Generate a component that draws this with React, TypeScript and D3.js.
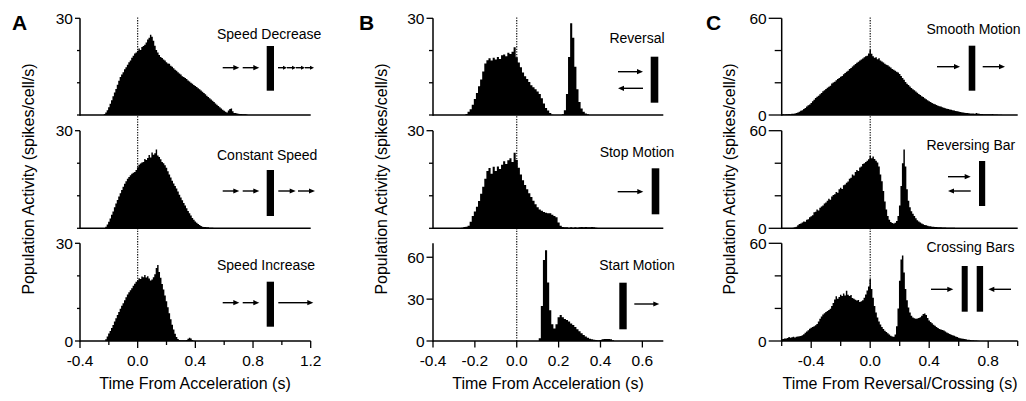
import { useEffect, useRef } from "react";
import * as d3 from "d3";

const BIN = 0.01; // histogram bin width (s)

// ---- Panel A: speed changes (spikes/cell/s, one value per 10 ms bin)
const speedDecreaseStart = -0.23;
const speedDecrease = [
  0.3, 0.8, 1.5, 2.4, 3.5, 4.6, 5.8, 7.0, 8.1, 9.4,
  10.6, 11.8, 12.6, 13.3, 14.2, 14.8, 15.6, 16.4, 16.9, 17.8,
  18.4, 19.1, 19.4, 19.9, 20.6, 20.2, 21.1, 21.4, 21.8, 22.5,
  23.4, 24.0, 24.9, 24.3, 23.0, 21.5, 20.2, 19.4, 18.6, 18.0,
  17.7, 17.2, 16.9, 16.4, 16.0, 15.9, 15.3, 15.0, 14.5, 14.0,
  13.7, 13.3, 12.9, 12.6, 12.0, 11.8, 11.5, 11.2, 10.7, 10.4,
  10.0, 9.7, 9.3, 9.0, 8.7, 8.3, 8.0, 7.6, 7.2, 6.8,
  6.4, 6.0, 5.6, 5.2, 4.8, 4.4, 4.0, 3.6, 3.2, 2.8,
  2.4, 2.0, 1.6, 1.3, 1.0, 0.8, 1.4, 1.9, 2.0, 1.2,
  0.6, 0.6, 0.5, 0.4, 0.3, 0.3, 0.2, 0.2, 0.2, 0.1,
];
const constantSpeedStart = -0.22;
const constantSpeed = [
  0.5, 1.2, 2.0, 3.0, 4.2, 5.2, 6.5, 7.6, 8.7, 9.8,
  10.8, 11.8, 12.8, 13.7, 14.5, 15.2, 15.8, 16.3, 16.8, 17.1,
  17.3, 17.9, 18.8, 19.5, 19.9, 20.2, 20.4, 21.3, 21.0, 21.6,
  22.5, 21.8, 23.3, 22.6, 23.1, 24.2, 22.4, 21.9, 21.2, 20.4,
  20.0, 19.4, 18.6, 17.5, 16.5, 15.6, 14.6, 13.8, 13.0, 12.2,
  11.3, 10.3, 9.5, 8.6, 7.8, 7.0, 6.2, 5.3, 4.6, 3.9,
  3.2, 2.6, 2.1, 1.7, 1.3, 1.0, 0.7, 0.5, 0.4, 0.4,
  0.3, 0.3, 0.2, 0.2, 0.2,
];
const speedIncreaseStart = -0.22;
const speedIncrease = [
  0.5, 1.4, 2.3, 3.1, 4.0, 4.9, 6.0, 7.0, 8.0, 8.9,
  9.9, 10.8, 11.6, 12.5, 13.4, 14.3, 15.0, 15.6, 16.2, 17.0,
  17.6, 18.2, 18.6, 19.3, 19.0, 19.8, 19.6, 20.3, 19.5, 19.9,
  19.2, 18.6, 18.9, 19.6, 20.5, 22.4, 23.3, 21.2, 19.4, 17.5,
  15.8, 14.0, 12.2, 10.4, 8.5, 6.7, 5.0, 3.5, 2.2, 1.2,
  0.6, 0.3, 0.2, 0.2, 0.2, 0.2, 0.3, 0.7, 1.0, 0.8,
  0.3, 0.1,
];

// ---- Panel B: reversal / stop / start
const reversalStart = -0.24;
const reversal = [
  0.3, 1.0, 1.8, 3.2, 5.0, 6.8, 8.9, 11.0, 13.5, 16.0,
  17.0, 17.6, 16.9, 17.8, 17.2, 18.0, 17.4, 18.5, 18.8, 18.2,
  19.3, 18.9, 19.6, 21.0, 17.9, 16.3, 14.8, 13.2, 12.0, 11.2,
  10.2, 9.2, 8.6, 8.0, 7.3, 6.5, 5.2, 3.6, 2.2, 1.4,
  0.6, 0.1, 0, 0, 0, 0, 0.2, 1.5, 6.5, 18.0,
  28.5, 24.0, 15.0, 8.0, 4.0, 2.0, 1.0, 0.5, 0.2,
];
const stopMotionStart = -0.26;
const stopMotion = [
  0.2, 0.4, 0.5, 0.8, 2.0, 3.8, 5.2, 6.6, 8.4, 10.6,
  12.8, 15.2, 17.6, 18.5, 16.8, 18.9, 17.6, 19.0, 18.2, 19.5,
  20.6, 19.8, 20.9, 21.5, 20.4, 23.2, 21.0, 18.6, 16.5, 14.8,
  13.3, 12.0, 10.8, 9.6, 8.5, 7.4, 6.5, 5.8, 5.4, 5.0,
  4.8, 4.6, 4.6, 4.2, 3.8, 3.4, 1.8, 0.8, 0.4, 0.3,
  0.3, 0.2, 0.3, 0.2, 0.3, 0.2, 0.3, 0.4, 0.3, 0.4,
  0.3, 0.3, 0.4, 0.3, 0.2,
];
const startMotionStart = 0.11;
const startMotion = [
  2.0, 25.0, 58.0, 65.0, 42.0, 22.0, 12.0, 9.0, 12.0, 17.0,
  18.6, 17.0, 15.8, 15.0, 14.0, 12.5, 11.5, 10.0, 8.5, 7.0,
  5.5, 4.3, 3.2, 2.4, 1.7, 1.2, 0.9, 0.7, 0.6, 0.8,
  1.2, 1.4, 1.5, 1.4, 1.2, 0.6,
];

// ---- Panel C: smooth / reversing / crossing
const smoothMotionStart = -0.6;
const smoothMotion = [
  0.3, 0.4, 0.3, 0.5, 0.4, 0.6, 0.5, 0.8, 0.7, 1.0,
  1.2, 1.6, 2.0, 2.6, 3.0, 3.8, 4.3, 5.2, 6.0, 6.5,
  7.4, 8.6, 9.5, 10.6, 11.4, 12.0, 12.8, 13.6, 14.8, 15.4,
  16.2, 16.9, 17.6, 18.2, 19.6, 20.1, 20.6, 21.5, 22.4, 22.9,
  23.8, 24.2, 25.3, 26.0, 26.8, 27.4, 28.6, 29.2, 30.1, 30.8,
  31.6, 32.4, 33.0, 33.8, 34.5, 35.0, 35.8, 36.4, 36.8, 38.2,
  40.5, 38.0, 36.4, 35.6, 35.9, 34.6, 35.2, 33.8, 33.2, 32.6,
  31.8, 31.2, 30.8, 30.1, 29.5, 28.6, 28.0, 27.4, 26.8, 26.3,
  25.4, 24.2, 23.0, 21.8, 20.5, 19.4, 18.6, 17.7, 16.8, 16.0,
  15.3, 14.6, 13.8, 13.0, 12.4, 11.7, 11.1, 10.4, 9.8, 9.1,
  8.5, 8.0, 7.5, 7.0, 6.6, 6.2, 5.8, 5.5, 5.2, 4.8,
  4.5, 4.2, 3.9, 3.7, 3.4, 3.2, 3.0, 2.8, 2.5, 2.3,
  2.1, 1.9, 1.7, 1.5, 1.4, 1.3, 1.2, 1.1, 1.0, 0.9,
  0.9, 0.8, 1.2, 1.0, 0.7, 0.6, 0.6, 0.5, 0.5, 0.4,
  0.5, 0.4, 0.4, 0.6, 0.3, 0.3, 0.3, 0.2, 0.2, 0.2,
];
const reversingBarStart = -0.52;
const reversingBar = [
  0.3, 0.6, 1.0, 1.8, 2.6, 3.0, 3.6, 4.2, 4.0, 5.2,
  5.6, 6.8, 7.4, 8.0, 9.8, 10.2, 11.5, 11.0, 12.6, 13.4,
  14.0, 15.3, 15.8, 17.0, 18.2, 17.6, 19.6, 20.4, 21.0, 22.3,
  21.8, 24.0, 25.0, 24.2, 26.4, 27.0, 28.0, 28.8, 30.5, 31.0,
  33.0, 32.4, 34.6, 35.8, 35.2, 37.4, 38.0, 39.5, 40.0, 40.8,
  41.6, 42.5, 44.5, 43.0, 44.2, 42.6, 41.5, 40.5, 38.0, 33.0,
  29.0, 23.0, 16.5, 11.5, 7.5, 5.2, 3.8, 3.2, 3.0, 3.4,
  4.5, 7.5, 14.0, 26.0, 40.0, 48.5, 38.0, 24.0, 17.0, 13.0,
  10.5, 9.0, 7.5, 6.2, 5.0, 4.2, 3.6, 3.0, 2.5, 2.1,
  1.8, 1.5, 1.3, 1.2, 1.0, 0.9, 0.8, 0.8, 0.7, 0.6,
  0.6, 0.5, 0.5, 0.5, 0.4, 0.4, 0.4, 0.3, 0.3, 0.3,
];
const crossingBarsStart = -0.6;
const crossingBars = [
  1.0, 1.3, 1.6, 1.5, 1.9, 2.4, 2.0, 2.3, 2.6, 2.2,
  2.6, 2.8, 2.9, 3.1, 3.5, 4.2, 5.0, 5.8, 6.6, 7.6,
  8.2, 8.6, 9.0, 9.6, 10.5, 12.0, 13.6, 15.0, 16.2, 17.0,
  17.8, 18.4, 19.0, 19.8, 21.5, 23.4, 25.5, 27.5, 26.0, 27.0,
  28.4, 27.6, 29.2, 28.0, 30.8, 28.4, 27.6, 28.2, 26.4, 26.0,
  25.4, 24.8, 25.2, 24.0, 24.4, 25.0, 26.6, 28.5, 31.0, 33.5,
  38.0, 32.0, 26.5, 21.5, 17.5, 14.5, 12.0, 10.2, 8.6, 7.4,
  6.3, 5.5, 4.8, 4.0, 3.3, 2.8, 2.6, 4.0, 9.0, 20.0,
  37.0, 50.0, 52.5, 42.0, 32.0, 25.0, 20.5, 17.5, 15.5, 14.5,
  14.0, 13.6, 13.8, 14.2, 14.6, 15.5, 16.6, 16.9, 16.0, 14.2,
  12.6, 11.6, 10.9, 10.0, 9.3, 8.6, 8.0, 7.4, 7.0, 6.8,
  6.4, 5.8, 5.2, 4.7, 4.3, 3.9, 3.6, 3.2, 2.8, 2.4,
  2.0, 1.7, 1.5, 1.4, 1.2, 1.0, 0.8, 0.7, 0.6, 0.5,
  0.4, 0.3, 0.3, 0.2,
];

// ---- axis ticks
const xTicksA = [-0.4, -0.2, 0, 0.2, 0.4, 0.6, 0.8, 1.0, 1.2];
const xLabelsA = [-0.4, 0, 0.4, 0.8, 1.2];
const xTicksB = [-0.4, -0.2, 0, 0.2, 0.4, 0.6];
const xLabelsB = [-0.4, -0.2, 0, 0.2, 0.4, 0.6];
const xTicksC = [-0.6, -0.4, -0.2, 0, 0.2, 0.4, 0.6, 0.8, 1.0];
const xLabelsC = [-0.4, 0, 0.4, 0.8];

const FONT = "'Liberation Sans', Arial, Helvetica, sans-serif";
const rows = [
  { top: 18.3, base: 115 },
  { top: 130.7, base: 228.3 },
  { top: 243.3, base: 341 },
];

type Icon =
  | { kind: "bar"; x: number; y: number; w: number; h: number }
  | { kind: "arrow"; x1: number; x2: number; y: number; head?: number };

const arrowPair = (xs: number[][], y: number, head?: number): Icon[] =>
  xs.map(([x1, x2]) => ({ kind: "arrow", x1, x2, y, head }));

const panels = [
  {
    letter: "A", letterX: 12, xDomain: [-0.4, 1.2], xRange: [80, 310.7],
    xTicks: xTicksA, xLabels: xLabelsA, xTitle: "Time From Acceleration (s)", xTitleX: 195,
    yTitleX: 34, yTick: [5, 3], xTick: [7, 4], textX: 217, textAnchor: "start",
    subs: [
      { name: "Speed Decrease", ty: 38.5, start: speedDecreaseStart, values: speedDecrease, yMax: 30, yTicks: [0, 10, 20, 30], yLabels: [30],
        icons: [{ kind: "bar", x: 266.7, y: 46, w: 7.3, h: 44.7 } as Icon,
          ...arrowPair([[222.7, 239.3], [242.7, 259.3]], 67.7),
          ...arrowPair([[278, 287], [287, 296], [296, 305], [305, 314]], 67.7, 4)] },
      { name: "Constant Speed", ty: 159.5, start: constantSpeedStart, values: constantSpeed, yMax: 30, yTicks: [0, 10, 20, 30], yLabels: [30],
        icons: [{ kind: "bar", x: 266.7, y: 170, w: 7.3, h: 46 } as Icon,
          ...arrowPair([[222.7, 239.3], [242.7, 259.3], [278.3, 295.7], [298, 315]], 191)] },
      { name: "Speed Increase", ty: 269.5, start: speedIncreaseStart, values: speedIncrease, yMax: 30, yTicks: [0, 10, 20, 30], yLabels: [0, 30],
        icons: [{ kind: "bar", x: 266.7, y: 281.7, w: 7.3, h: 45 } as Icon,
          ...arrowPair([[222.7, 239.3], [242.7, 259.3], [278.3, 313.3]], 302.7)] },
    ],
  },
  {
    letter: "B", letterX: 359, xDomain: [-0.4, 0.7], xRange: [433, 663.3],
    xTicks: xTicksB, xLabels: xLabelsB, xTitle: "Time From Acceleration (s)", xTitleX: 548,
    yTitleX: 387, yTick: [6.5, 4], xTick: [6.5, 6.5], textX: 637, textAnchor: "middle",
    subs: [
      { name: "Reversal", ty: 43, start: reversalStart, values: reversal, yMax: 30, yTicks: [0, 10, 20, 30], yLabels: [30],
        icons: [{ kind: "bar", x: 650.7, y: 56.7, w: 7.6, h: 46 } as Icon,
          ...arrowPair([[618, 643]], 71.7), ...arrowPair([[643, 618]], 88.3)] },
      { name: "Stop Motion", ty: 157, start: stopMotionStart, values: stopMotion, yMax: 30, yTicks: [0, 10, 20, 30], yLabels: [30],
        icons: [{ kind: "bar", x: 651.7, y: 168.3, w: 7.6, h: 46 } as Icon, ...arrowPair([[617.7, 643.3]], 191.7)] },
      { name: "Start Motion", ty: 270, start: startMotionStart, values: startMotion, yMax: 70, yTicks: [0, 30, 60], yLabels: [0, 30, 60],
        icons: [{ kind: "bar", x: 619.3, y: 282.7, w: 7.4, h: 46.6 } as Icon, ...arrowPair([[634.3, 659.3]], 304)] },
    ],
  },
  {
    letter: "C", letterX: 706, xDomain: [-0.6, 1.0], xRange: [781.7, 1017.7],
    xTicks: xTicksC, xLabels: xLabelsC, xTitle: "Time From Reversal/Crossing (s)", xTitleX: 900,
    yTitleX: 735, yTick: [13, 7], xTick: [7, 5], textX: 926.5, textAnchor: "start",
    subs: [
      { name: "Smooth Motion", ty: 34, start: smoothMotionStart, values: smoothMotion, yMax: 60, yTicks: [0, 20, 40, 60], yLabels: [0, 60],
        icons: [{ kind: "bar", x: 968.7, y: 45.7, w: 6.6, h: 45 } as Icon, ...arrowPair([[937, 960], [982.7, 1005]], 66.7)] },
      { name: "Reversing Bar", ty: 149.5, start: reversingBarStart, values: reversingBar, yMax: 60, yTicks: [0, 20, 40, 60], yLabels: [0, 60],
        icons: [{ kind: "bar", x: 979, y: 161, w: 6.2, h: 45 } as Icon,
          ...arrowPair([[948, 970.7]], 176.7), ...arrowPair([[970.7, 948]], 191)] },
      { name: "Crossing Bars", ty: 252, start: crossingBarsStart, values: crossingBars, yMax: 60, yTicks: [0, 20, 40, 60], yLabels: [0, 60],
        icons: [{ kind: "bar", x: 961.7, y: 266, w: 6, h: 45.7 } as Icon, { kind: "bar", x: 976.7, y: 266, w: 6.4, h: 45.7 } as Icon,
          ...arrowPair([[931, 953.3]], 289.3), ...arrowPair([[1011, 988.3]], 289.3)] },
    ],
  },
];

const fmtX = (v: number) => (Math.abs(v) < 1e-9 ? "0.0" : v.toFixed(1));

export default function App() {
  const ref = useRef<SVGSVGElement>(null);
  useEffect(() => {
    if (!ref.current) return;
    const svg = d3.select(ref.current);
    svg.selectAll("*").remove();
    svg.attr("viewBox", "0 0 1026 401");
    svg.append("rect").attr("width", 1026).attr("height", 401).attr("fill", "#fff");

    panels.forEach((p) => {
      const x = d3.scaleLinear(p.xDomain, p.xRange);
      const g = svg.append("g");
      g.append("text").attr("x", p.letterX).attr("y", 30).attr("font-family", FONT)
        .attr("font-weight", "bold").attr("font-size", 21).text(p.letter);

      p.subs.forEach((s, ri) => {
        const r = rows[ri];
        const y = d3.scaleLinear([0, s.yMax], [r.base, r.top]);
        // histogram
        const pts: [number, number][] = s.values.map((v, i) => [s.start - BIN / 2 + i * BIN, v]);
        pts.push([s.start - BIN / 2 + s.values.length * BIN, s.values[s.values.length - 1]]);
        const area = d3.area<[number, number]>()
          .x((d) => x(d[0])).y0(y(0)).y1((d) => y(d[1])).curve(d3.curveStepAfter);
        g.append("path").attr("d", area(pts)!).attr("fill", "#000");

        // y axis
        g.append("line").attr("x1", p.xRange[0]).attr("x2", p.xRange[0])
          .attr("y1", y(0) + 0.75).attr("y2", y(s.yMax)).attr("stroke", "#000").attr("stroke-width", 1.5);
        s.yTicks.forEach((t) => {
          const major = s.yLabels.includes(t);
          const len = major ? p.yTick[0] : p.yTick[1];
          g.append("line").attr("x1", p.xRange[0] - len).attr("x2", p.xRange[0])
            .attr("y1", y(t)).attr("y2", y(t)).attr("stroke", "#000").attr("stroke-width", 1.3);
          if (major) {
            g.append("text").attr("x", p.xRange[0] - len - 2).attr("y", y(t)).attr("dy", "0.36em")
              .attr("text-anchor", "end").attr("font-family", FONT).attr("font-size", 15.5).text(String(t));
          }
        });
        // baseline
        g.append("line").attr("x1", p.xRange[0]).attr("x2", p.xRange[1])
          .attr("y1", y(0)).attr("y2", y(0)).attr("stroke", "#000").attr("stroke-width", 1.5);

        // condition label + stimulus icon
        g.append("text").attr("x", p.textX).attr("y", s.ty).attr("text-anchor", p.textAnchor)
          .attr("font-family", FONT).attr("font-size", 14).text(s.name);
        s.icons.forEach((ic) => {
          if (ic.kind === "bar") {
            g.append("rect").attr("x", ic.x).attr("y", ic.y).attr("width", ic.w).attr("height", ic.h).attr("fill", "#000");
          } else {
            const dir = Math.sign(ic.x2 - ic.x1);
            const hl = ic.head ?? 6;
            const hw = hl === 4 ? 2 : 2.6;
            g.append("line").attr("x1", ic.x1).attr("x2", ic.x2 - dir * hl * 0.6).attr("y1", ic.y).attr("y2", ic.y)
              .attr("stroke", "#000").attr("stroke-width", 1.4);
            g.append("path")
              .attr("d", `M${ic.x2},${ic.y} L${ic.x2 - dir * hl},${ic.y - hw} L${ic.x2 - dir * hl},${ic.y + hw} Z`)
              .attr("fill", "#000");
          }
        });
      });

      // x axis ticks (bottom row only)
      const yb = rows[2].base;
      p.xTicks.forEach((t) => {
        const major = p.xLabels.some((l) => Math.abs(l - t) < 1e-9);
        const len = major ? p.xTick[0] : p.xTick[1];
        g.append("line").attr("x1", x(t)).attr("x2", x(t)).attr("y1", yb).attr("y2", yb + len)
          .attr("stroke", "#000").attr("stroke-width", 1.3);
        if (major) {
          g.append("text").attr("x", x(t)).attr("y", 365.5).attr("text-anchor", "middle")
            .attr("font-family", FONT).attr("font-size", 15.5).text(fmtX(t));
        }
      });
      g.append("text").attr("x", p.xTitleX).attr("y", 389).attr("text-anchor", "middle")
        .attr("font-family", FONT).attr("font-size", 16).text(p.xTitle);
      g.append("text").attr("transform", `translate(${p.yTitleX},179) rotate(-90)`)
        .attr("text-anchor", "middle").attr("font-family", FONT).attr("font-size", 16)
        .text("Population Activity (spikes/cell/s)");

      // dotted line at t = 0
      g.append("line").attr("x1", x(0)).attr("x2", x(0)).attr("y1", 17.5).attr("y2", rows[2].base)
        .attr("stroke", "#000").attr("stroke-width", 1.1).attr("stroke-dasharray", "1.3 1.3");
    });
  }, []);
  return (
    <svg ref={ref} width={1026} height={401}
      style={{ position: "absolute", left: 0, top: 0, display: "block" }} />
  );
}
